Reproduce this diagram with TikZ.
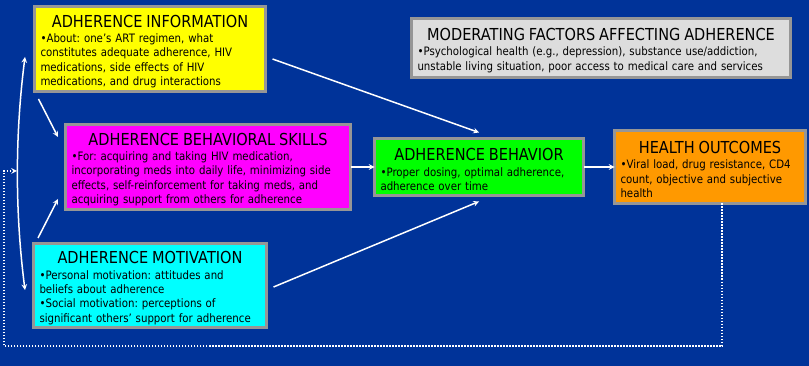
\documentclass[tikz,border=0pt]{standalone}
\usepackage{fontspec}
\setmainfont{DejaVu Sans}[FakeStretch=0.88]
\usepackage{tikz}
\usetikzlibrary{arrows, positioning}
\definecolor{slideblue}{RGB}{0,51,153}
\definecolor{boxgray}{RGB}{150,150,150}
\definecolor{infoyellow}{RGB}{255,255,0}
\definecolor{skillpink}{RGB}{255,0,255}
\definecolor{motivcyan}{RGB}{0,255,255}
\definecolor{behavgreen}{RGB}{0,255,0}
\definecolor{outcomeorange}{RGB}{255,153,0}
\definecolor{modgray}{RGB}{221,221,221}
\frenchspacing
\tikzstyle{arrow} = [line width=1.5pt,white,->,>=stealth]
\tikzstyle{loopline} = [line width=1.5pt,white,dash pattern=on 1.5pt off 1.5pt,->,>=stealth]
\tikzstyle{box} = [draw=boxgray,line width=3pt,outer sep=0pt,inner xsep=6pt,inner ysep=0pt,text=black,font=\fontsize{11.6}{14.3}\selectfont]
\newcommand{\boxhead}[1]{{\centering\fontsize{16.5}{18}\selectfont\rule{0pt}{17pt}#1\par}\vspace{1.3pt}}

\begin{document}
\begin{tikzpicture}[x=1pt,y=-1pt,>=stealth]
    \fill[slideblue] (0,0) rectangle (809,366);
    \useasboundingbox (0,0) rectangle (809,366);

    \node[box, fill=infoyellow, text width=219pt, minimum height=85pt] (info) at (150,49) {\boxhead{ADHERENCE INFORMATION}
        \raggedright •About: one's ART regimen, what\\
        constitutes adequate adherence, HIV\\
        medications, side effects of HIV\\
        medications, and drug interactions};
    \node[box, fill=skillpink, text width=273pt, minimum height=85pt] (skills) at (208,167) {\boxhead{ADHERENCE BEHAVIORAL SKILLS}
        \raggedright •For: acquiring and taking HIV medication,\\
        incorporating meds into daily life, minimizing side\\
        effects, self-reinforcement for taking meds, and\\
        acquiring support from others for adherence};
    \node[box, fill=motivcyan, text width=221pt, minimum height=84pt] (motiv) at (150,285.5) {\boxhead{ADHERENCE MOTIVATION}
        \raggedright •Personal motivation: attitudes and\\
        beliefs about adherence\\
        •Social motivation: perceptions of\\
        significant others' support for adherence};
    \node[box, fill=behavgreen, text width=197pt, minimum height=57pt, right=24pt of skills] (behav) {\boxhead{ADHERENCE BEHAVIOR}
        \raggedright •Proper dosing, optimal adherence,\\
        adherence over time};
    \node[box, fill=outcomeorange, text width=179pt, minimum height=73pt, right=31pt of behav] (outcome) {\boxhead{HEALTH OUTCOMES}
        \raggedright •Viral load, drug resistance, CD4\\
        count, objective and subjective\\
        health};
    \node[box, fill=modgray, text width=367pt, minimum height=59pt] (moder) at (601,48) {\boxhead{MODERATING FACTORS AFFECTING ADHERENCE}
        \raggedright •Psychological health (e.g., depression), substance use/addiction,\\
        unstable living situation, poor access to medical care and services};

    % links between the three determinants
    \coordinate (infoTip) at (25,57);
    \coordinate (motivTip) at (25,290);
    \coordinate (loopEnd) at (17,171);
    \draw[arrow,<->] (infoTip) .. controls (15,135) and (15,212) .. (motivTip);
    \draw[arrow] ([xshift=4pt,yshift=-7.5pt]info.south west) -- ([xshift=-7.5pt,yshift=-12.5pt]skills.north west);
    \draw[arrow] ([xshift=4.5pt,yshift=5.5pt]motiv.north west) -- ([xshift=-7.5pt,yshift=10.5pt]skills.south west);

    % paths to behavior and outcomes
    \draw[arrow] ([xshift=7pt,yshift=-10pt]info.east) -- ([yshift=6pt]behav.north);
    \draw[arrow] ([xshift=7pt,yshift=-1.5pt]motiv.east) -- ([yshift=-6pt]behav.south);
    \draw[arrow] (skills) -- (behav);
    \draw[arrow] (behav) -- (outcome);

    % feedback loop
    \draw[loopline] ([xshift=12pt]outcome.south) |- (4,346) |- (loopEnd);
\end{tikzpicture}
\end{document}
